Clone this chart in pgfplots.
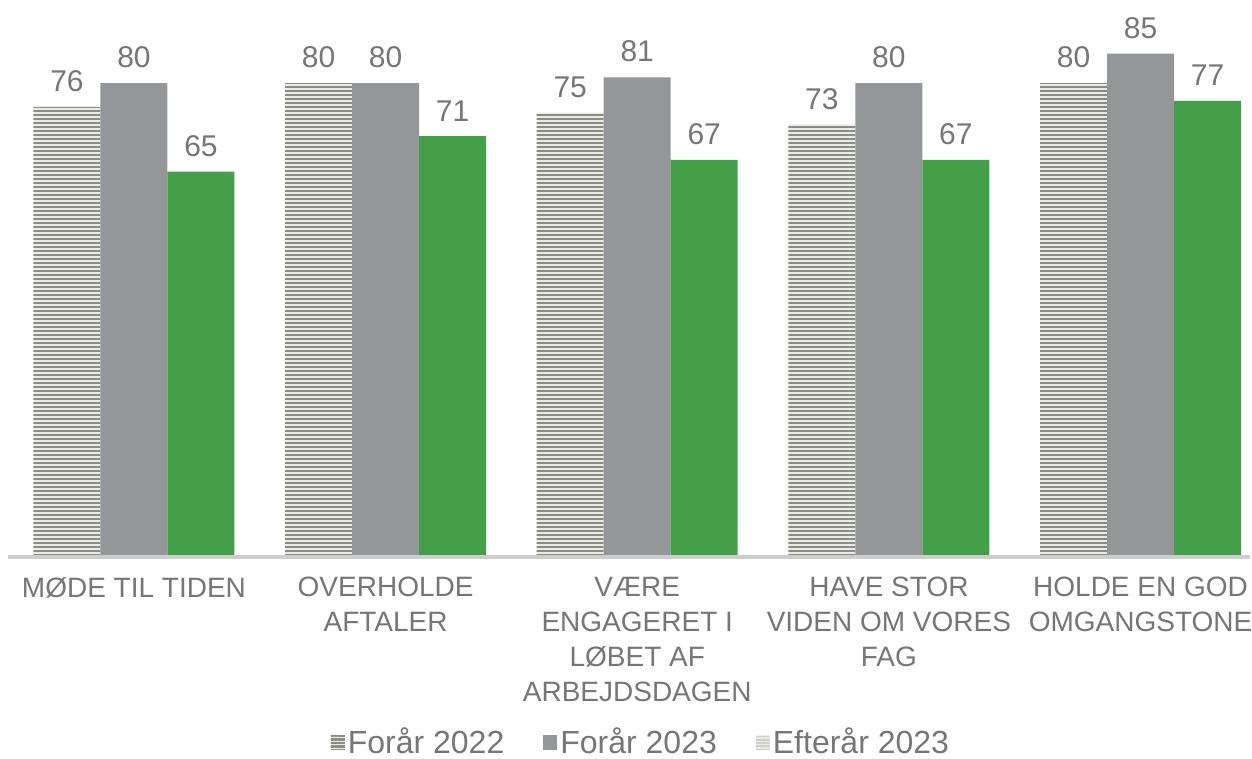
\documentclass[border=0pt]{standalone}
\usepackage{pgfplots}
\pgfplotsset{compat=1.18}
\usepackage{fontspec}
\setmainfont{Liberation Sans}
\usetikzlibrary{patterns.meta}
\definecolor{txt}{RGB}{118,118,118}
\definecolor{bargray}{RGB}{148,150,152}
\definecolor{bargreen}{RGB}{68,160,72}
\definecolor{stripe}{RGB}{140,140,135}
\definecolor{stripebg}{RGB}{234,234,230}
\definecolor{palestripe}{RGB}{205,208,203}
\definecolor{axisline}{RGB}{205,205,205}

\begin{document}
\begin{tikzpicture}
\begin{axis}[
    width=621pt, height=277.5pt, scale only axis,
    ybar=0pt, bar width=33.5pt,
    xmin=-0.5005, xmax=4.435, ymin=0, ymax=94.1,
    axis x line*=bottom, axis y line=none,
    x axis line style={axisline, line width=2pt, -, yshift=-1pt},
    xtick={0,1,2,3,4},
    major tick length=0pt,
    xticklabels={{MØDE TIL TIDEN},{OVERHOLDE\\AFTALER},{VÆRE\\ENGAGERET I\\LØBET AF\\ARBEJDSDAGEN},{HAVE STOR\\VIDEN OM VORES\\FAG},{HOLDE EN GOD\\OMGANGSTONE}},
    xticklabel style={align=center, font=\fontsize{14}{17.5}\selectfont, text=txt, yshift=-7.5pt},
    nodes near coords,
    /pgf/number format/assume math mode=true,
    every node near coord/.append style={font=\fontsize{15}{18}\selectfont, text=txt, yshift=4pt},
    legend style={draw=none, fill=none, at={(0.510,-0.338)}, anchor=center, legend columns=-1,
      inner sep=0pt, nodes={inner sep=1.5pt},
      font=\fontsize{16}{19}\selectfont, text=txt,
      /tikz/every even column/.append style={column sep=18pt}},
]
\addplot[draw=none, fill=stripebg,
  postaction={pattern={Lines[angle=0,distance=2pt,line width=1pt]}, pattern color=stripe},
  legend image code/.code={
    \fill[stripebg] (0pt,-3.7pt) rectangle (7pt,3.7pt);
    \fill[pattern={Lines[angle=0,distance=1.6pt,line width=0.8pt]}, pattern color=stripe] (0pt,-3.7pt) rectangle (7pt,3.7pt);}]
  coordinates {(0,76) (1,80) (2,75) (3,73) (4,80)};
\addplot[draw=none, fill=bargray,
  legend image code/.code={\fill[bargray] (0pt,-3.7pt) rectangle (7pt,3.7pt);}]
  coordinates {(0,80) (1,80) (2,81) (3,80) (4,85)};
\addplot[draw=none, fill=bargreen,
  legend image code/.code={
    \fill[stripebg] (0pt,-3.7pt) rectangle (7pt,3.7pt);
    \fill[pattern={Lines[angle=0,distance=1.6pt,line width=0.8pt]}, pattern color=palestripe] (0pt,-3.7pt) rectangle (7pt,3.7pt);}]
  coordinates {(0,65) (1,71) (2,67) (3,67) (4,77)};
\legend{Forår 2022, Forår 2023, Efterår 2023}
\end{axis}
\pgfresetboundingbox
\path (-4pt,-102pt) rectangle (622pt,277.5pt);
\end{tikzpicture}
\end{document}
